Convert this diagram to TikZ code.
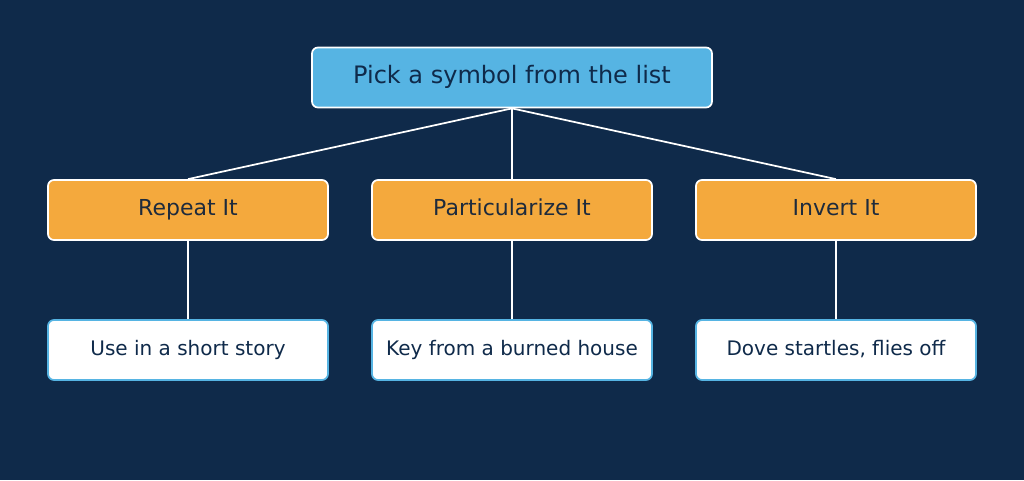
\documentclass[tikz,border=0pt]{standalone}
\usepackage{fontspec}
\setmainfont{DejaVu Sans}
\definecolor{navy}{HTML}{0F2A4A}
\definecolor{skyblue}{HTML}{56B4E3}
\definecolor{amber}{HTML}{F4A93D}
\definecolor{ink}{HTML}{1E2B3C}
\tikzset{
  box/.style={rectangle, rounded corners=4.5pt, line width=1.3pt, text=navy,
    minimum width=210pt, minimum height=45pt, inner sep=0pt,
    text height=0.88em, text depth=0em},
  rootbox/.style={box, draw=white, fill=skyblue, minimum width=300pt, font=\fontsize{18}{21}\selectfont},
  waybox/.style={box, draw=white, fill=amber, text=ink, font=\fontsize{16.5}{19}\selectfont},
  leafbox/.style={box, draw=skyblue, fill=white, font=\fontsize{15}{18}\selectfont},
  link/.style={draw=white, line width=1.3pt}
}
\begin{document}
\begin{tikzpicture}[x=0.75pt, y=-0.75pt]
        \fill[navy] (0,0) rectangle (1024,480);
        \useasboundingbox (0,0) rectangle (1024,480);
        \node[rootbox] (root) at (512,77.5) {Pick a symbol from the list};
        \node[waybox] (repeat) at (188,210) {Repeat It};
        \node[waybox] (partic) at (512,210) {Particularize It};
        \node[waybox] (invert) at (836,210) {Invert It};
        \node[leafbox] (story) at (188,350) {Use in a short story};
        \node[leafbox] (key) at (512,350) {Key from a burned house};
        \node[leafbox] (dove) at (836,350) {Dove startles, flies off};
        \draw[link] (root.south) -- (repeat.north);
        \draw[link] (root.south) -- (partic.north);
        \draw[link] (root.south) -- (invert.north);
        \draw[link] (repeat.south) -- (story.north);
        \draw[link] (partic.south) -- (key.north);
        \draw[link] (invert.south) -- (dove.north);
    \end{tikzpicture}
\end{document}
